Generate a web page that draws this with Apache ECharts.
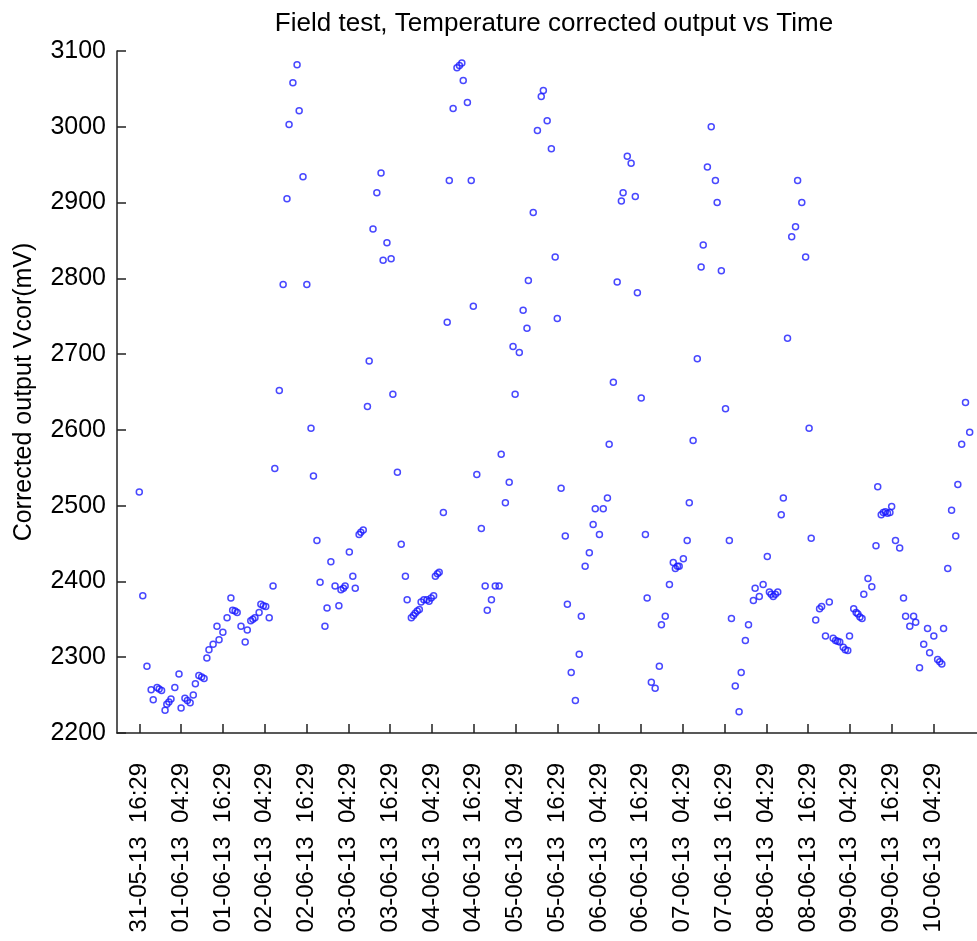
<!DOCTYPE html>
<html>
<head>
<meta charset="utf-8">
<title>Field test</title>
<script src="https://cdn.jsdelivr.net/npm/echarts@6/dist/echarts.min.js"></script>
<style>
  html, body { margin: 0; padding: 0; background: #fff; }
  #chart { width: 977px; height: 941px; }
</style>
</head>
<body>
<div id="chart"></div>
<script>
// hours after 31-05-13 16:29
var hours = [
  0.0, 1.0, 2.2, 3.4, 4.0, 5.1, 5.7, 6.4, 7.4, 7.9, 8.5, 9.1, 10.2, 11.4, 12.0, 13.1, 13.8, 14.6, 15.5, 16.1,
  17.1, 17.9, 18.6, 19.4, 20.0, 21.2, 22.3, 22.9, 24.0, 25.2, 26.3, 26.8, 27.5, 28.1, 29.2, 30.4, 31.0, 32.0, 32.6, 33.2,
  34.4, 34.9, 35.6, 36.3, 37.3, 38.4, 38.9, 40.2, 41.3, 42.4, 43.0, 44.1, 45.3, 45.9, 47.0, 48.1, 49.3, 50.0, 51.0, 51.9,
  53.3, 53.9, 55.0, 56.2, 57.3, 57.9, 58.6, 59.1, 60.3, 61.3, 62.0, 63.1, 63.6, 64.3, 65.5, 66.0, 67.1, 68.2, 69.4, 70.0,
  71.1, 72.3, 72.8, 74.1, 75.2, 76.4, 76.9, 78.1, 78.7, 79.2, 79.8, 80.4, 80.9, 81.7, 82.6, 83.2, 83.8, 84.5, 85.0, 85.6,
  86.1, 87.3, 88.4, 89.0, 90.1, 91.2, 91.9, 92.6, 93.0, 94.2, 95.3, 95.9, 96.9, 98.2, 99.3, 99.9, 101.1, 102.2, 103.3, 103.9,
  105.1, 106.2, 107.3, 107.9, 109.1, 110.2, 111.3, 111.7, 113.1, 114.3, 115.4, 116.0, 117.1, 118.3, 119.4, 120.0, 121.1, 122.3, 122.9, 124.0,
  125.2, 126.3, 126.9, 128.0, 129.2, 130.3, 130.9, 132.1, 133.2, 134.4, 134.9, 136.1, 137.2, 138.4, 138.9, 140.1, 141.2, 142.4, 143.0, 144.1,
  145.3, 145.8, 147.0, 148.1, 149.3, 149.9, 151.0, 152.2, 153.3, 153.9, 154.5, 155.0, 156.2, 157.3, 157.9, 159.0, 160.2, 161.3, 161.9, 163.1,
  164.2, 165.4, 165.9, 167.1, 168.3, 169.4, 170.0, 171.1, 172.2, 172.8, 174.0, 174.9, 176.3, 176.8, 178.0, 179.1, 180.3, 180.9, 181.4, 182.0,
  182.6, 183.3, 184.3, 184.9, 186.1, 187.3, 188.4, 189.0, 190.2, 191.3, 192.3, 192.9, 194.2, 195.3, 195.9, 197.0, 198.1, 199.2, 199.9, 200.5,
  201.1, 202.1, 202.7, 203.4, 203.9, 205.1, 205.8, 206.3, 206.9, 207.5, 208.0, 209.2, 210.3, 211.5, 212.0, 213.0, 213.6, 214.2, 214.8, 215.5,
  216.0, 217.1, 218.3, 219.4, 220.0, 221.2, 222.3, 222.9, 224.0, 225.2, 226.3, 226.9, 228.1, 229.2, 229.8, 230.4, 230.9, 232.1, 233.2, 234.4,
  235.0, 236.1, 237.2, 238.4
];
var vcor = [
  2518, 2381, 2288, 2257, 2244, 2260, 2258, 2256, 2230, 2238, 2241, 2245, 2260, 2278, 2233, 2246, 2243, 2240, 2250, 2265,
  2276, 2274, 2272, 2299, 2310, 2317, 2341, 2323, 2333, 2352, 2378, 2362, 2361, 2359, 2341, 2320, 2336, 2348, 2350, 2352,
  2359, 2370, 2368, 2367, 2352, 2394, 2549, 2652, 2792, 2905, 3003, 3058, 3082, 3021, 2934, 2792, 2602, 2539, 2454, 2399,
  2341, 2365, 2426, 2394, 2368, 2389, 2391, 2394, 2439, 2407, 2391, 2462, 2465, 2468, 2631, 2691, 2865, 2913, 2939, 2824,
  2847, 2826, 2647, 2544, 2449, 2407, 2376, 2352, 2355, 2358, 2361, 2363, 2373, 2376, 2376, 2374, 2378, 2381, 2407, 2410,
  2412, 2491, 2742, 2929, 3024, 3078, 3081, 3084, 3061, 3032, 2929, 2763, 2541, 2470, 2394, 2362, 2376, 2394, 2394, 2568,
  2504, 2531, 2710, 2647, 2702, 2758, 2734, 2797, 2887, 2995, 3040, 3048, 3008, 2971, 2828, 2747, 2523, 2460, 2370, 2280,
  2243, 2304, 2354, 2420, 2438, 2475, 2496, 2462, 2496, 2510, 2581, 2663, 2795, 2902, 2913, 2961, 2952, 2908, 2781, 2642,
  2462, 2378, 2267, 2259, 2288, 2343, 2354, 2396, 2425, 2417, 2420, 2420, 2430, 2454, 2504, 2586, 2694, 2815, 2844, 2947,
  3000, 2929, 2900, 2810, 2628, 2454, 2351, 2262, 2228, 2280, 2322, 2343, 2375, 2391, 2380, 2396, 2433, 2386, 2383, 2380,
  2383, 2386, 2488, 2510, 2721, 2855, 2868, 2929, 2900, 2828, 2602, 2457, 2349, 2364, 2367, 2328, 2373, 2325, 2322, 2321,
  2320, 2313, 2310, 2309, 2328, 2364, 2359, 2357, 2353, 2351, 2383, 2404, 2393, 2447, 2525, 2488, 2491, 2492, 2490, 2491,
  2499, 2454, 2444, 2378, 2354, 2341, 2354, 2346, 2286, 2317, 2338, 2306, 2328, 2297, 2294, 2291, 2338, 2417, 2494, 2460,
  2528, 2581, 2636, 2597
];
var tickHours = [0, 12, 24, 36, 48, 60, 72, 84, 96, 108, 120, 132, 144, 156, 168, 180, 192, 204, 216, 228];
var tickLabels = [
  '31-05-13  16:29', '01-06-13  04:29', '01-06-13  16:29', '02-06-13  04:29', '02-06-13  16:29',
  '03-06-13  04:29', '03-06-13  16:29', '04-06-13  04:29', '04-06-13  16:29', '05-06-13  04:29',
  '05-06-13  16:29', '06-06-13  04:29', '06-06-13  16:29', '07-06-13  04:29', '07-06-13  16:29',
  '08-06-13  04:29', '08-06-13  16:29', '09-06-13  04:29', '09-06-13  16:29', '10-06-13  04:29'
];

var font = "'Liberation Sans', Arial, sans-serif";
var points = hours.map(function (h, i) { return [h, vcor[i]]; });

var myChart = echarts.init(document.getElementById('chart'));
var option = {
  backgroundColor: '#fff',
  animation: false,
  title: {
    text: 'Field test, Temperature corrected output vs Time',
    left: 549,
    top: 6,
    textAlign: 'center',
    textStyle: { fontFamily: font, fontSize: 26, fontWeight: 'normal', color: '#000' }
  },
  grid: { left: 117, right: 0, top: 51, bottom: 208 },
  xAxis: {
    type: 'value',
    min: -6.4,
    max: 240.5,
    splitLine: { show: false },
    axisLine: { onZero: false, lineStyle: { color: '#222', width: 1.5 } },
    axisTick: {
      inside: true, length: 9, customValues: tickHours,
      lineStyle: { color: '#222', width: 1.5 }
    },
    axisLabel: {
      customValues: tickHours,
      rotate: 90,
      margin: 30,
      fontFamily: font,
      fontSize: 24,
      color: '#000',
      formatter: function (v) { return tickLabels[tickHours.indexOf(v)] || ''; }
    }
  },
  yAxis: {
    type: 'value',
    min: 2200,
    max: 3100,
    interval: 100,
    name: 'Corrected output Vcor(mV)',
    nameLocation: 'middle',
    nameGap: 80,
    nameTextStyle: { fontFamily: font, fontSize: 25, color: '#000' },
    splitLine: { show: false },
    axisLine: { show: true, onZero: false, lineStyle: { color: '#222', width: 1.5 } },
    axisTick: { show: true, inside: true, length: 9, lineStyle: { color: '#222', width: 1.5 } },
    axisLabel: {
      margin: 11, fontFamily: font, fontSize: 25, color: '#000',
      formatter: function (v) { return String(v); }
    }
  },
  series: [{
    type: 'scatter',
    data: points,
    symbol: 'circle',
    symbolSize: 6,
    itemStyle: { color: 'rgba(255,255,255,0)', borderColor: '#1a1aff', borderWidth: 1.5 }
  }]
};
myChart.setOption(option, true);
</script>
</body>
</html>
